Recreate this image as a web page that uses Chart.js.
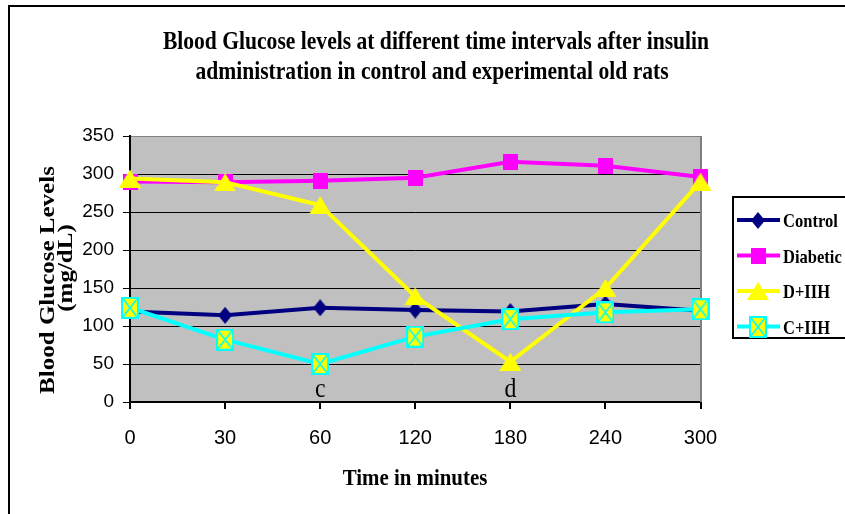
<!DOCTYPE html>
<html><head><meta charset="utf-8">
<script src="https://cdn.jsdelivr.net/npm/chart.js@4/dist/chart.umd.min.js"></script>
<style>html,body{margin:0;padding:0;background:#fff;}#wrap{width:845px;height:514px;position:relative;}</style>
</head><body><div id="wrap"><canvas id="c" width="845" height="514"></canvas></div>
<script>
const categories = ['0','30','60','120','180','240','300'];
const seriesNames = ['Control','Diabetic','D+IIH','C+IIH'];
const controlValues = [119,114,124,121,119,129,120];
const diabeticValues = [290,289,291,295,316,311,296];
const dIIHValues = [294,289,259,139,53,150,290];
const cIIHValues = [124,82,50,86,109,118,122];
const yTicks = [0,50,100,150,200,250,300,350];
const titleLines = ['Blood Glucose levels at different time intervals after insulin','administration in control and experimental old rats'];
const xTitle = 'Time in minutes';
const yTitleLines = ['Blood Glucose Levels','(mg/dL)'];
const noteLabels = ['c','d'];
const noteCategories = ['60','180'];
const noteValues = [6,6];

const SERIF = '"Liberation Serif","Times New Roman",serif';
const SANS = '"Liberation Sans",Arial,sans-serif';

function marker(type, w, h){
  const c = document.createElement('canvas'); c.width = w; c.height = h;
  const g = c.getContext('2d');
  if(type==='diamond'){ g.fillStyle='#000080'; g.beginPath(); g.moveTo(w/2,0); g.lineTo(w,h/2); g.lineTo(w/2,h); g.lineTo(0,h/2); g.closePath(); g.fill(); }
  else if(type==='square'){ g.fillStyle='#FF00FF'; g.fillRect(0,0,w,h); }
  else if(type==='triangle'){ g.fillStyle='#FFFF00'; g.beginPath(); g.moveTo(w/2,0); g.lineTo(w,h); g.lineTo(0,h); g.closePath(); g.fill(); }
  else if(type==='xsquare'){ g.fillStyle='#FFFF00'; g.fillRect(0,0,w,h); g.strokeStyle='#00FFFF'; g.lineWidth=2; g.strokeRect(1,1,w-2,h-2); g.lineWidth=1.6; g.beginPath(); g.moveTo(2,2); g.lineTo(w-2,h-2); g.moveTo(w-2,2); g.lineTo(2,h-2); g.stroke(); }
  return c;
}
const markers = [marker('diamond',14,17), marker('square',15,16), marker('triangle',22,18), marker('xsquare',18,22)];
const colors = ['#000080','#FF00FF','#FFFF00','#00FFFF'];
const values = [controlValues, diabeticValues, dIIHValues, cIIHValues];

function drawText(ctx, s, x, y, font, sx, align, rot, sy){
  ctx.save(); ctx.translate(x,y); if(rot) ctx.rotate(rot); ctx.scale(sx||1, sy||1);
  ctx.font = font; ctx.fillStyle='#000'; ctx.textAlign = align||'left'; ctx.textBaseline='alphabetic';
  ctx.fillText(s,0,0); ctx.restore();
}

const decor = {
  id:'decor',
  beforeDraw(chart){
    const {ctx, chartArea:a} = chart;
    ctx.save(); ctx.fillStyle='#fff'; ctx.fillRect(0,0,chart.width,chart.height);
    ctx.fillStyle='#C0C0C0'; ctx.fillRect(a.left,a.top,a.right-a.left,a.bottom-a.top); ctx.restore();
  },
  beforeDatasetsDraw(chart){
    const {ctx, chartArea:a} = chart;
    ctx.save(); ctx.strokeStyle='#808080'; ctx.lineWidth=2;
    ctx.beginPath(); ctx.moveTo(a.right+0.5,a.top); ctx.lineTo(a.right+0.5,a.bottom); ctx.stroke(); ctx.restore();
  },
  afterDraw(chart){
    const {ctx} = chart;
    ctx.save(); ctx.strokeStyle='#000'; ctx.lineWidth=2;
    ctx.beginPath(); ctx.moveTo(9,514); ctx.lineTo(9,6); ctx.lineTo(845,6); ctx.stroke(); ctx.restore();
    drawText(ctx, titleLines[0], 436, 49, 'bold 26px '+SERIF, 0.83, 'center');
    drawText(ctx, titleLines[1], 432, 79, 'bold 26px '+SERIF, 0.83, 'center');
    drawText(ctx, xTitle, 415, 485, 'bold 24px '+SERIF, 0.87, 'center');
    drawText(ctx, yTitleLines[0], 54, 280, 'bold 25px '+SERIF, 1, 'center', -Math.PI/2, 0.85);
    drawText(ctx, yTitleLines[1], 72, 268, 'bold 25px '+SERIF, 1, 'center', -Math.PI/2, 0.85);
    const xs = chart.scales.x, ys = chart.scales.y;
    noteLabels.forEach((t,i)=>{
      const px = xs.getPixelForValue(categories.indexOf(noteCategories[i]));
      const py = ys.getPixelForValue(noteValues[i]);
      drawText(ctx, t, px, py, '28px '+SERIF, 0.85, 'center');
    });
    ctx.save(); ctx.strokeStyle='#000'; ctx.lineWidth=2; ctx.strokeRect(733,197,200,141); ctx.restore();
    chart.data.datasets.forEach((ds,i)=>{
      const y = 220 + i*35.5;
      ctx.save(); ctx.strokeStyle=ds.borderColor; ctx.lineWidth=4;
      ctx.beginPath(); ctx.moveTo(737,y); ctx.lineTo(780,y); ctx.stroke();
      const m = ds.pointStyle; ctx.drawImage(m, Math.round(758-m.width/2), Math.round(y-m.height/2)); ctx.restore();
      drawText(ctx, ds.label, 783, y+7, 'bold 19px '+SERIF, 0.87, 'left');
    });
  }
};

new Chart(document.getElementById('c'), {
  type:'line',
  data:{
    labels: categories,
    datasets: seriesNames.map((n,i)=>({
      label:n, data:values[i], borderColor:colors[i], backgroundColor:colors[i],
      borderWidth:4, pointStyle:markers[i], pointRadius:10, pointHoverRadius:10,
      tension:0, clip:false, order:4-i, fill:false
    }))
  },
  options:{
    responsive:false, animation:false, devicePixelRatio:1,
    layout:{padding:{top:136,right:144.5,left:0,bottom:0}},
    plugins:{legend:{display:false}, title:{display:false}, tooltip:{enabled:false}},
    scales:{
      x:{ type:'category', offset:false,
        grid:{drawOnChartArea:false, drawTicks:true, tickLength:7, color:'#000', lineWidth:2},
        border:{color:'#000', width:2},
        ticks:{color:'#000', font:{family:SANS, size:20}, padding:17, maxRotation:0, autoSkip:false},
        afterFit(s){ s.height = 112; } },
      y:{ min:0, max:350,
        afterBuildTicks(s){ s.ticks = yTicks.map(v=>({value:v})); },
        grid:{color:(c)=> (c.tick && c.tick.value===350) ? '#808080' : '#000', lineWidth:1, tickColor:'#000', tickLength:7},
        border:{color:'#000', width:2},
        ticks:{color:'#000', font:{family:SANS, size:19}, padding:9},
        afterFit(s){ s.width = 130; } }
    }
  },
  plugins:[decor]
});
</script></body></html>
